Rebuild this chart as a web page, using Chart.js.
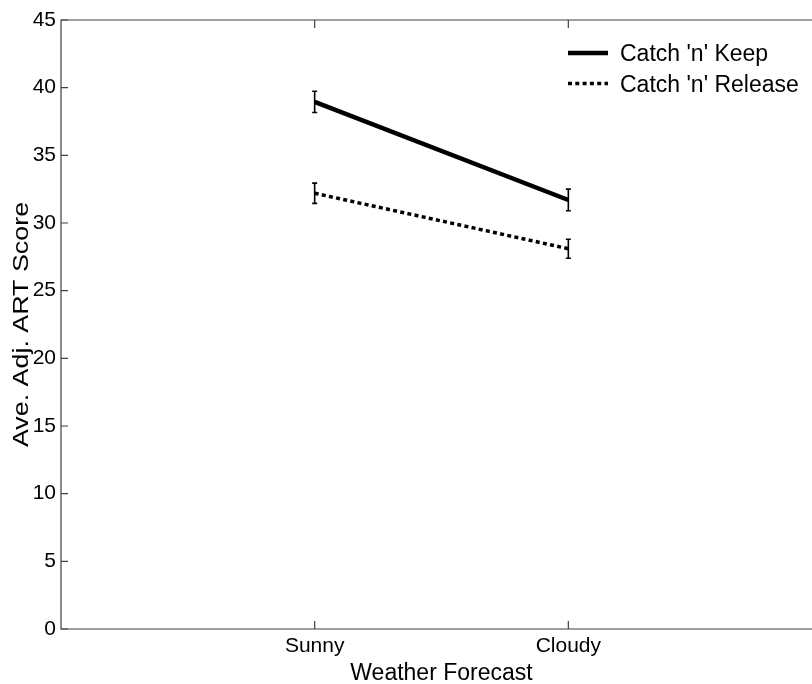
<!DOCTYPE html>
<html>
<head>
<meta charset="utf-8">
<script src="https://cdn.jsdelivr.net/npm/chart.js@4/dist/chart.umd.min.js"></script>
<style>
  html, body { margin: 0; padding: 0; background: #fff; overflow: hidden; }
  #wrap { position: relative; width: 840px; height: 684px; }
</style>
</head>
<body>
<div id="wrap"><canvas id="c"></canvas></div>
<script>
// ---- data ----
const categories = ['Sunny', 'Cloudy'];
const categoryPositions = [1, 2];
const keepValues = [38.95, 31.7];
const keepErrors = [0.78, 0.8];
const releaseValues = [32.2, 28.1];
const releaseErrors = [0.75, 0.7];
const seriesLabels = ["Catch 'n' Keep", "Catch 'n' Release"];
const yTickStep = 5;
const yMin = 0, yMax = 45;
const xMin = 0, xMax = 3;
const xTitle = 'Weather Forecast';
const yTitle = 'Ave. Adj. ART Score';

const FONT = "'Liberation Sans', Arial, sans-serif";
const AXIS_COLOR = '#404040';

function pts(values) {
  return values.map((v, i) => ({ x: categoryPositions[i], y: v }));
}

const boxPlugin = {
  id: 'matlabBox',
  afterDatasetsDraw(chart) {
    const { ctx, chartArea: a, scales: { x, y } } = chart;
    ctx.save();
    ctx.strokeStyle = AXIS_COLOR;
    ctx.lineWidth = 1.2;
    ctx.beginPath();
    ctx.rect(a.left, a.top, a.right - a.left, a.bottom - a.top);
    ctx.stroke();
    ctx.beginPath();
    y.ticks.forEach(t => {
      const py = y.getPixelForValue(t.value);
      ctx.moveTo(a.left, py); ctx.lineTo(a.left + 7, py);
      ctx.moveTo(a.right, py); ctx.lineTo(a.right - 7, py);
    });
    x.ticks.forEach(t => {
      const px = x.getPixelForValue(t.value);
      ctx.moveTo(px, a.bottom); ctx.lineTo(px, a.bottom - 8);
      ctx.moveTo(px, a.top); ctx.lineTo(px, a.top + 8);
    });
    ctx.stroke();
    ctx.restore();
  }
};

const errorBarPlugin = {
  id: 'errorBars',
  afterDatasetsDraw(chart) {
    const { ctx, scales: { x, y } } = chart;
    ctx.save();
    ctx.strokeStyle = '#000';
    ctx.lineWidth = 1.6;
    chart.data.datasets.forEach(ds => {
      (ds.data || []).forEach((p, j) => {
        const e = ds.errors[j];
        const px = x.getPixelForValue(p.x);
        const y1 = y.getPixelForValue(p.y + e);
        const y2 = y.getPixelForValue(p.y - e);
        ctx.beginPath();
        ctx.moveTo(px, y1); ctx.lineTo(px, y2);
        ctx.moveTo(px - 2.5, y1); ctx.lineTo(px + 2.5, y1);
        ctx.moveTo(px - 2.5, y2); ctx.lineTo(px + 2.5, y2);
        ctx.stroke();
      });
    });
    ctx.restore();
  }
};

// y-axis title, drawn slightly stretched along its length like the reference
const yTitlePlugin = {
  id: 'yTitle',
  afterDraw(chart) {
    const { ctx, chartArea: a } = chart;
    ctx.save();
    ctx.translate(21.5, (a.top + a.bottom) / 2);
    ctx.rotate(-Math.PI / 2);
    ctx.scale(1.22, 1);
    ctx.fillStyle = '#000';
    ctx.font = '22px ' + FONT;
    ctx.textAlign = 'center';
    ctx.textBaseline = 'middle';
    ctx.fillText(yTitle, 0, 0);
    ctx.restore();
  }
};

const legendPlugin = {
  id: 'insideLegend',
  afterDraw(chart) {
    const { ctx, chartArea: a } = chart;
    ctx.save();
    const rows = [33, 63.5];
    chart.data.datasets.forEach((ds, i) => {
      const yRow = a.top + rows[i];
      const x0 = a.left + 507;
      ctx.strokeStyle = ds.borderColor;
      ctx.lineWidth = ds.borderWidth;
      ctx.setLineDash(ds.borderDash || []);
      ctx.beginPath();
      ctx.moveTo(x0, yRow); ctx.lineTo(x0 + 40, yRow);
      ctx.stroke();
      ctx.setLineDash([]);
      ctx.fillStyle = '#000';
      ctx.font = '23px ' + FONT;
      ctx.textBaseline = 'middle';
      ctx.textAlign = 'left';
      ctx.fillText(ds.label, x0 + 52, yRow + 2);
    });
    ctx.restore();
  }
};

new Chart(document.getElementById('c'), {
  type: 'line',
  data: {
    datasets: [
      {
        label: seriesLabels[0],
        data: pts(keepValues),
        errors: keepErrors,
        borderColor: '#000',
        backgroundColor: '#000',
        borderWidth: 4.5,
        pointRadius: 0,
        fill: false,
        tension: 0
      },
      {
        label: seriesLabels[1],
        data: pts(releaseValues),
        errors: releaseErrors,
        borderColor: '#000',
        backgroundColor: '#000',
        borderWidth: 3.5,
        borderDash: [4, 3.3],
        pointRadius: 0,
        fill: false,
        tension: 0
      }
    ]
  },
  options: {
    responsive: true,
    maintainAspectRatio: false,
    animation: false,
    events: [],
    layout: { padding: { top: 20, right: 18, left: 0, bottom: 0 } },
    plugins: { legend: { display: false }, tooltip: { enabled: false } },
    scales: {
      x: {
        type: 'linear',
        min: xMin, max: xMax,
        grid: { display: false, drawTicks: false },
        border: { display: false },
        afterBuildTicks(scale) { scale.ticks = categoryPositions.map(v => ({ value: v })); },
        afterFit(scale) { scale.height = 55; },
        ticks: {
          padding: 5,
          color: '#000',
          font: { family: FONT, size: 21 },
          maxRotation: 0,
          callback: (v) => categories[categoryPositions.indexOf(v)]
        },
        title: {
          display: true, text: xTitle, color: '#000',
          font: { family: FONT, size: 23, lineHeight: 0.93 },
          padding: { top: 0, bottom: 0 }
        }
      },
      y: {
        type: 'linear',
        min: yMin, max: yMax,
        grid: { display: false, drawTicks: false },
        border: { display: false },
        afterFit(scale) { scale.width = 61; },
        ticks: {
          stepSize: yTickStep,
          padding: 5,
          color: '#000',
          font: { family: FONT, size: 21 }
        },
        title: { display: false }
      }
    }
  },
  plugins: [boxPlugin, errorBarPlugin, yTitlePlugin, legendPlugin]
});
</script>
</body>
</html>
